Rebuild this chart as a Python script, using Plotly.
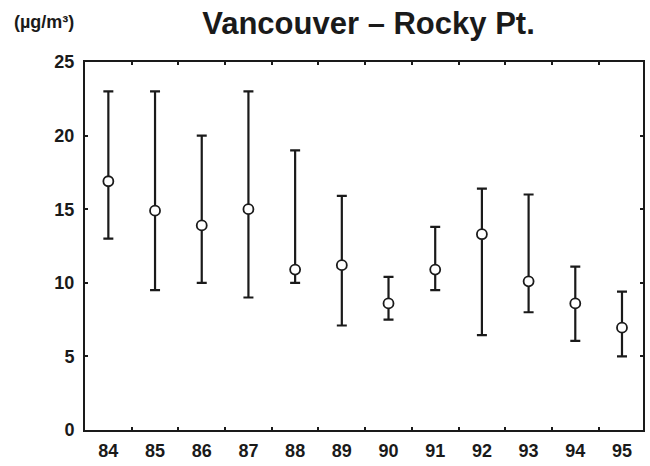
import plotly.graph_objects as go

years = ["84", "85", "86", "87", "88", "89", "90", "91", "92", "93", "94", "95"]
mean_vals = [16.9, 14.9, 13.9, 15.0, 10.9, 11.2, 8.6, 10.9, 13.3, 10.1, 8.6, 6.95]
upper_vals = [23.0, 23.0, 20.0, 23.0, 19.0, 15.9, 10.4, 13.8, 16.4, 16.0, 11.1, 9.4]
lower_vals = [13.0, 9.5, 10.0, 9.0, 10.0, 7.1, 7.5, 9.5, 6.45, 8.0, 6.05, 5.0]
y_ticks = [0, 5, 10, 15, 20, 25]

err_plus = [u - m for u, m in zip(upper_vals, mean_vals)]
err_minus = [m - l for m, l in zip(mean_vals, lower_vals)]

INK = "#1a1a1a"
FONT = "Liberation Sans, Arial, Helvetica, sans-serif"

W, H = 650, 466

fig = go.Figure()
fig.add_trace(go.Scatter(
    x=years, y=mean_vals, mode="markers",
    marker=dict(symbol="circle", size=10, color="white",
                line=dict(color=INK, width=1.8)),
    error_y=dict(type="data", symmetric=False, array=err_plus,
                 arrayminus=err_minus, color=INK, thickness=2.2, width=5),
    showlegend=False,
))

fig.update_layout(
    width=W, height=H,
    margin=dict(l=85, r=5, t=62, b=36),
    paper_bgcolor="white", plot_bgcolor="white",
    font=dict(family=FONT, color=INK, size=18),
    title=dict(text="<b>Vancouver – Rocky Pt.</b>", x=368.5 / W, xanchor="center",
               y=1 - 23 / H, yanchor="middle", yref="container",
               font=dict(size=31, family=FONT, color=INK)),
    annotations=[dict(text="<b>(µg/m³)</b>", xref="paper", yref="paper",
                      x=-0.13, y=1.109, xanchor="left", yanchor="middle",
                      showarrow=False, font=dict(size=18, family=FONT, color=INK))],
)
fig.update_xaxes(
    type="category", range=[-0.5, 11.45], tickson="boundaries",
    tickvals=years, ticktext=[f"<b>{y}</b>" for y in years],
    ticks="inside", ticklen=3, tickwidth=2, tickcolor=INK,
    showline=True, linecolor=INK, linewidth=2, mirror="ticks",
    showgrid=False, zeroline=False, ticklabelstandoff=3,
    tickfont=dict(size=18, family=FONT, color=INK),
)
fig.update_yaxes(
    range=[0, 25], tickvals=y_ticks, ticktext=[f"<b>{v}</b>" for v in y_ticks],
    ticks="inside", ticklen=3, tickwidth=2, tickcolor=INK,
    showline=True, linecolor=INK, linewidth=2, mirror="ticks",
    showgrid=False, zeroline=False, ticklabelstandoff=5,
    tickfont=dict(size=18, family=FONT, color=INK),
)

fig.write_html("out.html", config={"displayModeBar": False},
               post_script="document.body.style.margin='0';document.body.style.overflow='hidden';")
